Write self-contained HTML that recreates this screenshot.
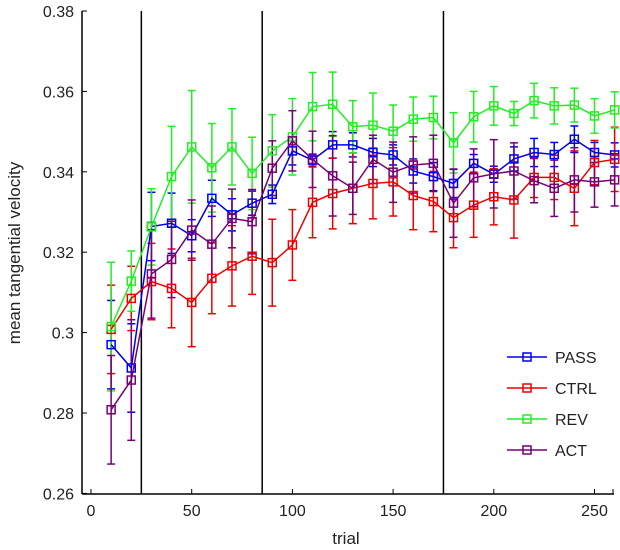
<!DOCTYPE html>
<html><head><meta charset="utf-8"><style>
body{margin:0;background:#fff;}
svg{display:block;font-family:"Liberation Sans",sans-serif;}
</style></head><body>
<svg id="chart" width="620" height="550" viewBox="0 0 620 550"></svg>
<script>
const trials=[10,20,30,40,50,60,70,80,90,100,110,120,130,140,150,160,170,180,190,200,210,220,230,240,250,260];
const passVals=[0.297,0.2912,0.3264,0.3272,0.3241,0.3334,0.3293,0.3322,0.3344,0.3452,0.3429,0.3467,0.3467,0.3448,0.3442,0.3402,0.3388,0.3371,0.3421,0.3394,0.3432,0.3448,0.3443,0.3481,0.3448,0.3442];
const ctrlVals=[0.3008,0.3085,0.3127,0.3110,0.3075,0.3135,0.3166,0.3190,0.3174,0.3218,0.3324,0.3346,0.3359,0.3371,0.3375,0.3341,0.3326,0.3286,0.3317,0.3338,0.3330,0.3386,0.3386,0.3359,0.3423,0.3431];
const revVals=[0.3015,0.3128,0.3263,0.3388,0.3462,0.3410,0.3462,0.3396,0.3452,0.3487,0.3562,0.3568,0.3512,0.3516,0.3501,0.3531,0.3535,0.3472,0.3537,0.3564,0.3545,0.3577,0.3564,0.3566,0.3539,0.3554];
const actVals=[0.2808,0.2882,0.3146,0.3182,0.3255,0.3220,0.3284,0.3276,0.3409,0.3477,0.3431,0.3390,0.3359,0.3431,0.3399,0.3417,0.3421,0.3322,0.3385,0.3395,0.3402,0.3378,0.3359,0.3380,0.3375,0.3380];
const passErr=[0.011,0.011,0.0085,0.0075,0.004,0.0045,0.004,0.003,0.0023,0.0035,0.0015,0.0033,0.003,0.0035,0.0025,0.003,0.0035,0.0035,0.0022,0.002,0.003,0.0035,0.003,0.0033,0.0025,0.003];
const ctrlErr=[0.011,0.008,0.0095,0.0098,0.011,0.0088,0.01,0.0095,0.0108,0.0088,0.0088,0.0088,0.0088,0.0088,0.0085,0.0085,0.0075,0.0075,0.008,0.007,0.0095,0.005,0.0055,0.0093,0.0055,0.008];
const revErr=[0.016,0.0075,0.0095,0.0125,0.014,0.011,0.0095,0.009,0.009,0.0095,0.0085,0.008,0.0065,0.008,0.0065,0.0055,0.0053,0.0075,0.0063,0.0048,0.003,0.0043,0.0045,0.0042,0.0043,0.0045];
const actErr=[0.0135,0.015,0.011,0.0095,0.0075,0.0095,0.0073,0.008,0.0068,0.0075,0.007,0.01,0.0065,0.006,0.0075,0.007,0.007,0.0085,0.0072,0.0085,0.007,0.0055,0.007,0.008,0.0063,0.0065];
const seriesNames=["PASS","CTRL","REV","ACT"];
const xTicks=[0,50,100,150,200,250];
const yTicks=[0.26,0.28,0.3,0.32,0.34,0.36,0.38];
const yTickLabels=["0.26","0.28","0.3","0.32","0.34","0.36","0.38"];
const phaseLines=[25,85,175];

const X=t=>91+2.014*t;
const Y=v=>11+(0.38-v)/0.02*80.4;
const svg=document.getElementById('chart');
const NS="http://www.w3.org/2000/svg";
function mk(tag,attrs,parent){const e=document.createElementNS(NS,tag);for(const k in attrs)e.setAttribute(k,attrs[k]);(parent||svg).appendChild(e);return e;}

const ax=mk('g',{});


const yl=mk('line',{x1:82,y1:11,x2:82,y2:494,stroke:'#000','stroke-width':1.5},ax);


const xl=mk('line',{x1:82,y1:494,x2:614,y2:494,stroke:'#000','stroke-width':1.5},ax);


yTicks.forEach((v,i)=>{
  mk('line',{x1:82,y1:Y(v),x2:87,y2:Y(v),stroke:'#000'},ax);
  const t=mk('text',{x:74,y:Y(v)+6,'text-anchor':'end','font-size':16,fill:'#222'},ax);
  t.textContent=yTickLabels[i];
  
  
});
xTicks.forEach(v=>{
  mk('line',{x1:X(v),y1:494,x2:X(v),y2:489,stroke:'#000'},ax);
  const t=mk('text',{x:X(v),y:516,'text-anchor':'middle','font-size':16,fill:'#222'},ax);
  t.textContent=v;
  
  
});
mk('line',{x1:613,y1:494,x2:613,y2:489,stroke:'#000'},ax);
const xt=mk('text',{x:346,y:544,'text-anchor':'middle','font-size':17,fill:'#222'},ax);
xt.textContent='trial';


const yt=mk('text',{x:0,y:0,transform:'translate(20,253) rotate(-90)','text-anchor':'middle','font-size':17,fill:'#222'},ax);
yt.textContent='mean tangential velocity';



phaseLines.forEach(p=>{
  const l=mk('line',{x1:X(p),y1:11,x2:X(p),y2:494,stroke:'#000','stroke-width':1.5});
  
  
});

const colors=['#0000ee','#ee0000','#22ee22','#770077'];
const vals=[passVals,ctrlVals,revVals,actVals];
const errs=[passErr,ctrlErr,revErr,actErr];
vals.forEach((vs,s)=>{
  const g=mk('g',{stroke:colors[s],'stroke-width':1.5,fill:'none'});
  
  
  vs.forEach((v,i)=>{
    const x=X(trials[i]),y1=Y(v+errs[s][i]),y2=Y(v-errs[s][i]);
    mk('line',{x1:x,y1:y1,x2:x,y2:y2},g);
    mk('line',{x1:x-4,y1:y1,x2:x+4,y2:y1},g);
    mk('line',{x1:x-4,y1:y2,x2:x+4,y2:y2},g);
  });
});
vals.forEach((vs,s)=>{
  const g=mk('g',{stroke:colors[s],'stroke-width':1.5,fill:'none'});
  
  
  mk('polyline',{points:vs.map((v,i)=>X(trials[i])+','+Y(v)).join(' ')},g);
  vs.forEach((v,i)=>{
    const r=mk('rect',{x:X(trials[i])-4,y:Y(v)-4,width:8,height:8},g);
    
    
  });
});
const lg=mk('g',{});


seriesNames.forEach((n,s)=>{
  const y=357+s*31;
  const e=mk('g',{},lg);
  
  
  mk('line',{x1:507,y1:y,x2:547,y2:y,stroke:colors[s],'stroke-width':1.5},e);
  mk('rect',{x:523,y:y-4,width:8,height:8,stroke:colors[s],'stroke-width':1.5,fill:'none'},e);
  const t=mk('text',{x:555,y:y+6,'font-size':16,fill:'#222'},e);
  t.textContent=n;
});
</script>
</body></html>
